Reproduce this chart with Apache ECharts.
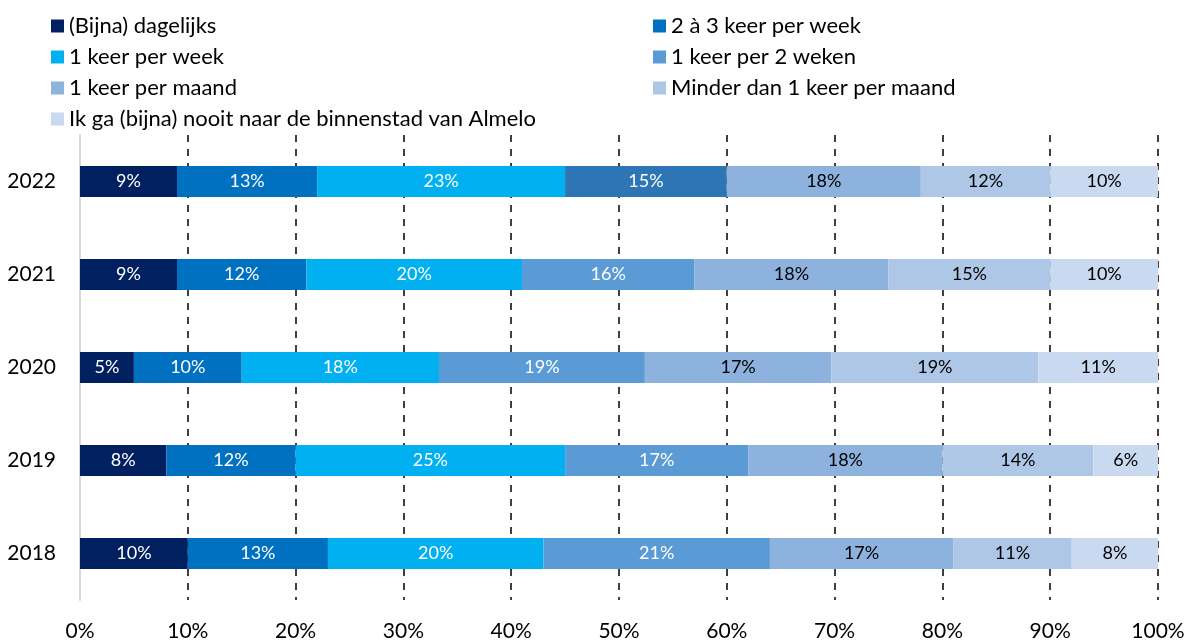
<!DOCTYPE html>
<html>
<head>
<meta charset="utf-8">
<script src="https://cdn.jsdelivr.net/npm/echarts@6/dist/echarts.min.js"></script>
<style>
html, body { margin: 0; padding: 0; background: #ffffff; }
#chart { width: 1192px; height: 642px; }
</style>
</head>
<body>
<div id="chart"></div>
<script>
// jaren, van onder naar boven
var years = ["2018", "2019", "2020", "2021", "2022"];

var seriesNames = [
  "(Bijna) dagelijks",
  "2 à 3 keer per week",
  "1 keer per week",
  "1 keer per 2 weken",
  "1 keer per maand",
  "Minder dan 1 keer per maand",
  "Ik ga (bijna) nooit naar de binnenstad van Almelo"
];

// percentages per categorie (2018..2022)
var dagelijks    = [10, 8, 5, 9, 9];
var tweeDrie     = [13, 12, 10, 12, 13];
var eenPerWeek   = [20, 25, 18.3, 20, 23];
var eenPerTwee   = [21, 17, 19.1, 16, 15];
var eenPerMaand  = [17, 18, 17.3, 18, 18];
var minderDan    = [11, 14, 19.2, 15, 12];
var nooit        = [8, 6, 11.1, 10, 10];

var allData = [dagelijks, tweeDrie, eenPerWeek, eenPerTwee, eenPerMaand, minderDan, nooit];
var colors = ["#002060", "#0070c0", "#00b0f0", "#5b9bd5", "#8db2dd", "#afc7e6", "#c9d9ef"];
var labelColors = ["#fff", "#fff", "#fff", "#fff", "#000", "#000", "#000"];
var fontName = "Lato";

var chart = echarts.init(document.getElementById("chart"));

function makeSeries() {
  var list = [];
  for (var i = 0; i < seriesNames.length; i++) {
    var d = allData[i].map(function (v, j) {
      var item = { value: v };
      // in 2022 heeft deze categorie een donkerdere kleur
      if (i === 3 && years[j] === "2022") {
        item.itemStyle = { color: "#2e75b6" };
      }
      return item;
    });
    list.push({
      name: seriesNames[i],
      type: "bar",
      stack: "totaal",
      barWidth: 31,
      data: d,
      itemStyle: { color: colors[i] },
      label: {
        show: true,
        position: "inside",
        color: labelColors[i],
        fontFamily: fontName,
        fontSize: 18,
        formatter: function (p) { return Math.round(p.value) + "%"; }
      }
    });
  }
  return list;
}

var legendText = { fontFamily: fontName, fontSize: 22, color: "#000" };

chart.setOption({
  animation: false,
  textStyle: { fontFamily: fontName },
  legend: [
    {
      orient: "vertical",
      left: 46,
      top: 10,
      itemWidth: 13,
      itemHeight: 13,
      itemGap: 9,
      icon: "rect",
      textStyle: legendText,
      data: [seriesNames[0], seriesNames[2], seriesNames[4], seriesNames[6]]
    },
    {
      orient: "vertical",
      left: 648,
      top: 10,
      itemWidth: 13,
      itemHeight: 13,
      itemGap: 9,
      icon: "rect",
      textStyle: legendText,
      data: [seriesNames[1], seriesNames[3], seriesNames[5]]
    }
  ],
  grid: {
    left: 80,
    right: 34,
    top: 135,
    bottom: 42,
    containLabel: false
  },
  xAxis: {
    type: "value",
    min: 0,
    max: 100,
    interval: 10,
    axisLine: { show: false },
    axisTick: { show: false },
    axisLabel: {
      formatter: "{value}%",
      fontFamily: fontName,
      fontSize: 21,
      color: "#000",
      margin: 21
    },
    splitLine: {
      show: true,
      lineStyle: { color: "#000", width: 1.5, type: [7, 7] }
    }
  },
  yAxis: {
    type: "category",
    data: years,
    axisLine: { show: true, lineStyle: { color: "#d9d9d9", width: 2 } },
    axisTick: { show: false },
    axisLabel: {
      fontFamily: fontName,
      fontSize: 21,
      color: "#000",
      margin: 24
    }
  },
  series: makeSeries()
});
</script>
</body>
</html>
